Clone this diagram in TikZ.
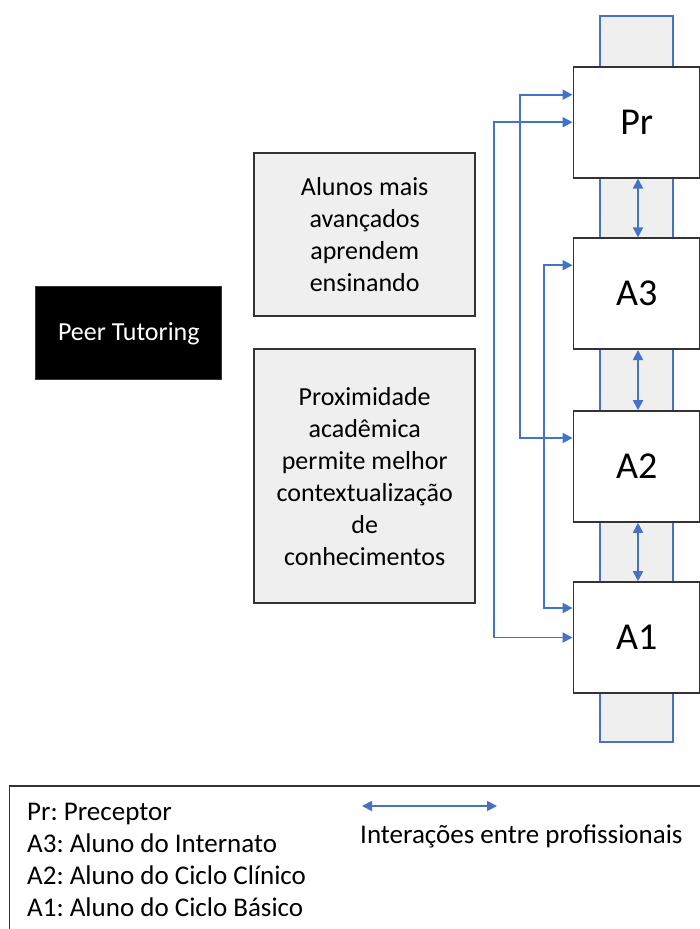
\documentclass[tikz,border=0pt]{standalone}
\usepackage{fontspec}
\setmainfont{Carlito}
\usetikzlibrary{arrows.meta,calc}
\definecolor{linkblue}{HTML}{4472C4}
\definecolor{panelgray}{HTML}{EFEFEF}
\definecolor{edgegray}{HTML}{333333}
\frenchspacing

\begin{document}
\begin{tikzpicture}[x=1pt,y=-1pt,
  role/.style={draw=edgegray, line width=1.6pt, fill=white, minimum width=126.7pt,
    minimum height=111pt, inner sep=0pt, font=\fontsize{38}{44}\selectfont},
  note/.style={draw=edgegray, line width=1.8pt, fill=panelgray, minimum width=220.7pt,
    inner sep=0pt, align=center, font=\fontsize{26}{32}\selectfont},
  title/.style={draw=edgegray, line width=1pt, fill=black, text=white, minimum width=185.7pt,
    minimum height=93.3pt, inner sep=0pt, font=\fontsize{26}{32}\selectfont},
  link/.style={draw=linkblue, line width=1.8pt,
    {Triangle[length=10pt,width=10pt]}-{Triangle[length=10pt,width=10pt]}},
  column/.style={draw=linkblue, line width=1.8pt, fill=panelgray},
  legendtext/.style={inner sep=0pt, align=left, font=\fontsize{27}{32}\selectfont},
]
\useasboundingbox (0,0) rectangle (699,929);

% vertical band behind the role boxes
\draw[column] (600,16) rectangle (672.7,741.7);

% role boxes
\node[role] (Pr) at (636.7,122.2) {Pr};
\node[role] (A3) at (636.7,293.7) {A3};
\node[role] (A2) at (636.7,466.5) {A2};
\node[role] (A1) at (636.7,637.5) {A1};

% interactions between neighbouring roles
\draw[link] ([xshift=1.3pt]Pr.south) -- ([xshift=1.3pt]A3.north);
\draw[link] ([xshift=1.3pt]A3.south) -- ([xshift=1.3pt]A2.north);
\draw[link] ([xshift=1.3pt]A2.south) -- ([xshift=1.3pt]A1.north);

% interactions that skip levels
\draw[link] (Pr.west) -- ++(-78.3,0) |- (A1.west);
\draw[link] ([yshift=27.5pt]Pr.west) -- ++(-52.6,0) |- ([yshift=28.5pt]A2.west);
\draw[link] ([yshift=28.5pt]A3.west) -- ++(-28.3,0) |- ([yshift=29.5pt]A1.west);

% left column
\node[title] (pt) at (128.8,333.3) {Peer Tutoring};
\node[note, minimum height=163pt] (n1) at (364.7,234.2)
  {Alunos mais\\avançados\\aprendem\\ensinando};
\node[note, minimum height=254pt] (n2) at (364.7,476.3)
  {Proximidade\\acadêmica\\permite melhor\\contextualização\\de\\conhecimentos};

% legend
\draw[draw=edgegray, line width=1.6pt] (9.5,786) rectangle (712,945);
\node[legendtext, anchor=west] (key) at (27,860)
  {Pr: Preceptor\\A3: Aluno do Internato\\A2: Aluno do Ciclo Clínico\\A1: Aluno do Ciclo Básico};
\coordinate (la) at (362,806);
\coordinate (lb) at (497,806);
\draw[link] (la) -- (lb);
\node[legendtext, anchor=west] (keyarrow) at (360,836) {Interações entre profissionais};
\end{tikzpicture}
\end{document}
